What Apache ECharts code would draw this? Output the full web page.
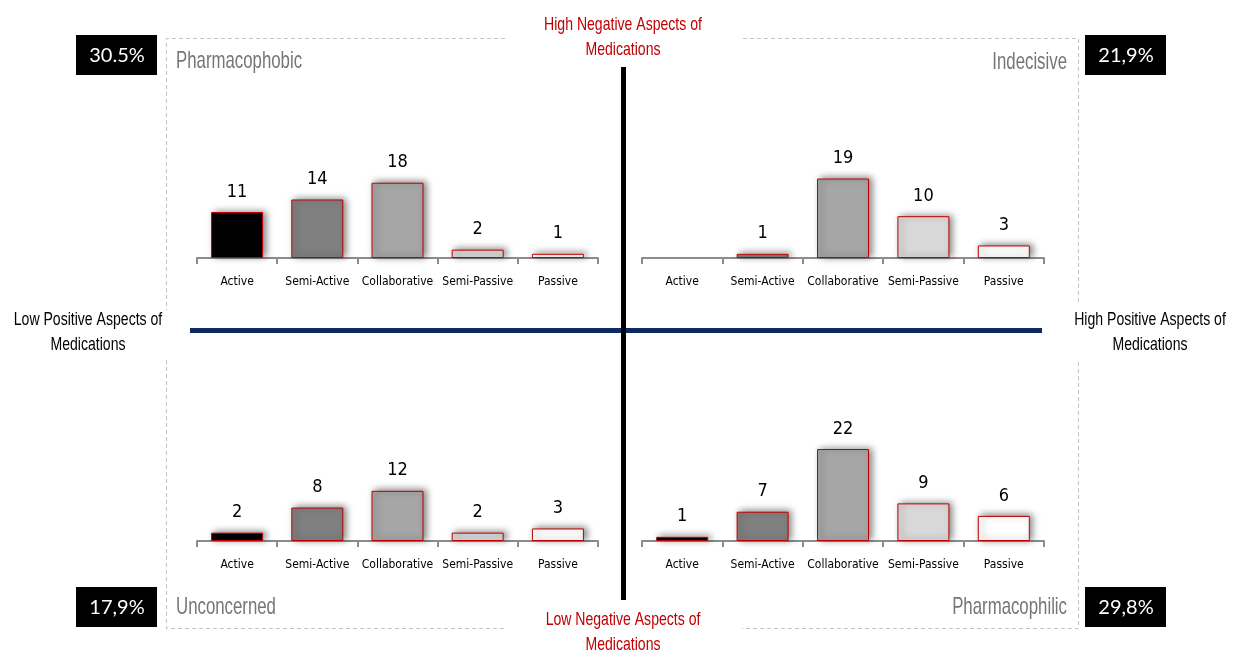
<!DOCTYPE html>
<html>
<head>
<meta charset="utf-8">
<script src="https://cdn.jsdelivr.net/npm/echarts@6/dist/echarts.min.js"></script>
<style>
  html, body { margin: 0; padding: 0; background: #ffffff; }
  #chart { width: 1235px; height: 652px; }
</style>
</head>
<body>
<div id="chart"></div>
<script>
// Patient profiles by involvement style, one small bar chart per quadrant
const categories = ['Active', 'Semi-Active', 'Collaborative', 'Semi-Passive', 'Passive'];
const pharmacophobic = [11, 14, 18, 2, 1];
const indecisive = [0, 1, 19, 10, 3];
const unconcerned = [2, 8, 12, 2, 3];
const pharmacophilic = [1, 7, 22, 9, 6];
const barColors = ['#000000', '#808080', '#a6a6a6', '#d9d9d9', '#ffffff'];
const groupNames = ['Pharmacophobic', 'Indecisive', 'Unconcerned', 'Pharmacophilic'];
const groupShares = ['30.5%', '21,9%', '17,9%', '29,8%'];
const axisTitles = {
  top: 'High Negative Aspects of\nMedications',
  bottom: 'Low Negative Aspects of\nMedications',
  left: 'Low Positive Aspects of\nMedications',
  right: 'High Positive Aspects of\nMedications'
};

const CONDENSED = "'DejaVu Sans Condensed', 'Liberation Sans', sans-serif";
const SANS = "'Liberation Sans', Arial, sans-serif";
const BADGE_FONT = "Lato, 'Open Sans', sans-serif";

const panels = [pharmacophobic, indecisive, unconcerned, pharmacophilic];
const gridBoxes = [
  { left: 197, top: 166, width: 401, height: 92 },
  { left: 642, top: 166, width: 402, height: 92 },
  { left: 197, top: 449, width: 401, height: 92 },
  { left: 642, top: 449, width: 402, height: 92 }
];

const grids = gridBoxes.map(g => Object.assign({ containLabel: false }, g));
const xAxes = panels.map((_, i) => ({
  type: 'category',
  gridIndex: i,
  data: categories,
  axisLine: { lineStyle: { color: '#8c8c8c', width: 2 } },
  axisTick: { show: true, length: 6, lineStyle: { color: '#8c8c8c', width: 2 } },
  axisLabel: { color: '#000', fontFamily: CONDENSED, fontSize: 12, margin: 18, interval: 0 }
}));
const yAxes = panels.map((_, i) => ({
  type: 'value', gridIndex: i, min: 0, max: 22, show: false, splitLine: { show: false }
}));
const series = panels.map((vals, i) => ({
  type: 'bar',
  xAxisIndex: i,
  yAxisIndex: i,
  barWidth: 52,
  data: vals.map((v, k) => ({
    value: v,
    itemStyle: v === 0
      ? { color: barColors[k], borderWidth: 0, shadowBlur: 0, shadowColor: 'transparent' }
      : { color: barColors[k] }
  })),
  itemStyle: {
    borderColor: '#c00000',
    borderWidth: 1,
    shadowColor: 'rgba(0,0,0,0.5)',
    shadowBlur: 7,
    shadowOffsetX: 3,
    shadowOffsetY: -1
  },
  label: {
    show: true,
    position: 'top',
    distance: 11,
    color: '#000',
    fontFamily: CONDENSED,
    fontSize: 18,
    formatter: p => (p.value === 0 ? '' : String(p.value))
  },
  emphasis: { disabled: true },
  animation: false
}));

const dash = { stroke: '#c4c4c4', lineWidth: 1, lineDash: [4, 3] };
function sideText(x, y, text, color) {
  return {
    type: 'text', x: x, y: y, scaleX: 0.74, scaleY: 1,
    style: { text: text, fill: color, font: '19px ' + SANS, textAlign: 'center', textVerticalAlign: 'middle', lineHeight: 25 }
  };
}
const graphic = [
  // dashed quadrant frames
  { type: 'polyline', shape: { points: [[505, 38.5], [166.5, 38.5], [166.5, 310]] }, style: Object.assign({ fill: null }, dash) },
  { type: 'polyline', shape: { points: [[166.5, 360], [166.5, 628.5], [505, 628.5]] }, style: Object.assign({ fill: null }, dash) },
  { type: 'polyline', shape: { points: [[743, 38.5], [1078.5, 38.5], [1078.5, 305]] }, style: Object.assign({ fill: null }, dash) },
  { type: 'polyline', shape: { points: [[1078.5, 362], [1078.5, 628.5], [742, 628.5]] }, style: Object.assign({ fill: null }, dash) },
  // quadrant dividers
  { type: 'line', shape: { x1: 190, y1: 330.5, x2: 1042, y2: 330.5 }, style: { stroke: '#0f2a63', lineWidth: 5 }, z: 10 },
  { type: 'line', shape: { x1: 623.5, y1: 67, x2: 623.5, y2: 600 }, style: { stroke: '#000000', lineWidth: 5 }, z: 11 },
  // dimension titles
  sideText(623, 37, axisTitles.top, '#c00000'),
  sideText(623, 632, axisTitles.bottom, '#c00000'),
  sideText(88, 332, axisTitles.left, '#000'),
  sideText(1150, 332, axisTitles.right, '#000')
];

// group names and share badges
const titlePos = [
  { x: 176, y: 61, align: 'left' },
  { x: 1067, y: 62, align: 'right' },
  { x: 176, y: 607, align: 'left' },
  { x: 1067, y: 607, align: 'right' }
];
const badgePos = [
  { x: 76, y: 35 }, { x: 1085, y: 35 }, { x: 76, y: 587 }, { x: 1085, y: 587 }
];
groupNames.forEach((name, i) => {
  graphic.push({
    type: 'text', x: titlePos[i].x, y: titlePos[i].y, scaleX: 0.7, scaleY: 1,
    style: { text: name, fill: '#767676', font: '24px ' + SANS, textAlign: titlePos[i].align, textVerticalAlign: 'middle' }
  });
  graphic.push({
    type: 'rect', shape: { x: badgePos[i].x, y: badgePos[i].y, width: 81, height: 40 }, style: { fill: '#000' }
  });
  graphic.push({
    type: 'text', x: badgePos[i].x + 41, y: badgePos[i].y + 21,
    style: { text: groupShares[i], fill: '#fff', font: '20px ' + BADGE_FONT, textAlign: 'center', textVerticalAlign: 'middle' }
  });
});

const chart = echarts.init(document.getElementById('chart'), null, { renderer: 'canvas' });
chart.setOption({
  animation: false,
  grid: grids,
  xAxis: xAxes,
  yAxis: yAxes,
  series: series,
  graphic: graphic
});
</script>
</body>
</html>
